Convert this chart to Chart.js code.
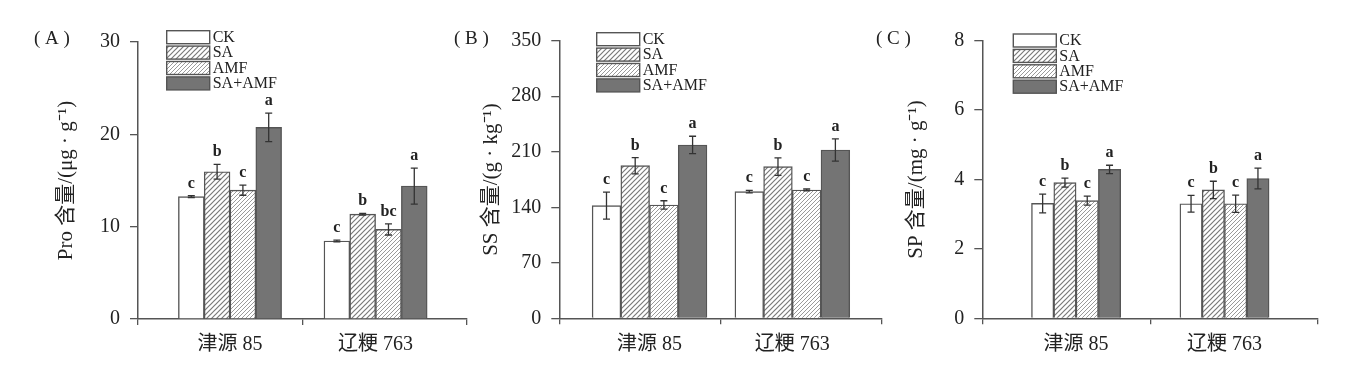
<!DOCTYPE html>
<html>
<head>
<meta charset="utf-8">
<script src="https://cdn.jsdelivr.net/npm/chart.js@4.4.1/dist/chart.umd.min.js"></script>
<style>
  body { margin: 0; background: #fff; }
  .panel { position: absolute; top: 0; height: 371px; }
</style>
</head>
<body>
<div class="panel" style="left:0;width:475px"><canvas id="chartA"></canvas></div>
<div class="panel" style="left:440px;width:450px"><canvas id="chartB"></canvas></div>
<div class="panel" style="left:860px;width:488px"><canvas id="chartC"></canvas></div>
<script>
// categories and treatments
var groups = ['津源 85', '辽粳 763'];
var treatments = ['CK', 'SA', 'AMF', 'SA+AMF'];

// (A) proline, one row per treatment: [津源 85, 辽粳 763]
var proMeans = [[13.25, 8.45], [15.95, 11.35], [13.95, 9.7], [20.75, 14.4]];
var proErrors = [[0.1, 0.1], [0.8, 0.1], [0.55, 0.6], [1.55, 1.95]];
var proLetters = [['c', 'c'], ['b', 'b'], ['c', 'bc'], ['a', 'a']];

// (B) soluble sugar
var ssMeans = [[142, 159.7], [192.4, 191.2], [142.9, 161.8], [218.5, 212.2]];
var ssErrors = [[17, 1.5], [10.3, 11], [5.3, 1.2], [11, 14]];
var ssLetters = [['c', 'c'], ['b', 'b'], ['c', 'c'], ['a', 'a']];

// (C) soluble protein
var spMeans = [[3.31, 3.3], [3.91, 3.7], [3.39, 3.3], [4.29, 4.03]];
var spErrors = [[0.27, 0.24], [0.13, 0.25], [0.13, 0.25], [0.12, 0.3]];
var spLetters = [['c', 'c'], ['b', 'b'], ['c', 'c'], ['a', 'a']];

var FONT = "'Liberation Serif', 'Noto Sans CJK SC', serif";
var AXIS = '#555';

function hatch(step, color, width) {
  var c = document.createElement('canvas');
  c.width = step; c.height = step;
  var g = c.getContext('2d');
  g.fillStyle = '#fff';
  g.fillRect(0, 0, step, step);
  g.strokeStyle = color;
  g.lineWidth = width;
  g.beginPath();
  g.moveTo(-1, step + 1); g.lineTo(step + 1, -1);
  g.moveTo(-1, 1); g.lineTo(1, -1);
  g.moveTo(step - 1, step + 1); g.lineTo(step + 1, step - 1);
  g.stroke();
  return g.createPattern(c, 'repeat');
}

var fills = ['#ffffff', hatch(5, '#7a7a7a', 1.2), hatch(4, '#9a9a9a', 1), '#747474'];

var errorBars = {
  id: 'errorBars',
  afterDatasetsDraw: function(chart) {
    var ctx = chart.ctx, y = chart.scales.y;
    ctx.save();
    chart.data.datasets.forEach(function(ds, i) {
      chart.getDatasetMeta(i).data.forEach(function(bar, j) {
        var v = ds.data[j].y, e = ds.errors[j];
        var top = y.getPixelForValue(v + e), bot = y.getPixelForValue(v - e);
        ctx.strokeStyle = '#333';
        ctx.lineWidth = 1.3;
        ctx.beginPath();
        ctx.moveTo(bar.x, top); ctx.lineTo(bar.x, bot);
        ctx.moveTo(bar.x - 3.5, top); ctx.lineTo(bar.x + 3.5, top);
        ctx.moveTo(bar.x - 3.5, bot); ctx.lineTo(bar.x + 3.5, bot);
        ctx.stroke();
        ctx.fillStyle = '#222';
        ctx.font = 'bold 16px ' + FONT;
        ctx.textAlign = 'center';
        ctx.textBaseline = 'alphabetic';
        ctx.fillText(ds.letters[j], bar.x, top - 8);
      });
    });
    ctx.restore();
  }
};

var boxLegend = {
  id: 'boxLegend',
  afterDraw: function(chart, args, opts) {
    var ctx = chart.ctx;
    var x0 = chart.chartArea.left + opts.x, y0 = opts.y;
    ctx.save();
    chart.data.datasets.forEach(function(ds, i) {
      var y = y0 + i * 15.4;
      ctx.fillStyle = ds.backgroundColor;
      ctx.fillRect(x0, y, 43, 13);
      ctx.strokeStyle = '#555';
      ctx.lineWidth = 1.4;
      ctx.strokeRect(x0, y, 43, 13);
      ctx.fillStyle = '#222';
      ctx.font = '16px ' + FONT;
      ctx.textAlign = 'left';
      ctx.textBaseline = 'middle';
      ctx.fillText(ds.label, x0 + 46, y + 7);
    });
    ctx.restore();
  }
};

var panelLabel = {
  id: 'panelLabel',
  afterDraw: function(chart, args, opts) {
    var ctx = chart.ctx;
    ctx.save();
    ctx.fillStyle = '#222';
    ctx.font = '19px ' + FONT;
    ctx.textAlign = 'left';
    ctx.textBaseline = 'middle';
    ctx.fillText(opts.text, opts.x, opts.y);
    ctx.restore();
  }
};

function makeChart(id, p) {
  var datasets = treatments.map(function(t, i) {
    return {
      label: t,
      data: groups.map(function(g, j) { return { x: j + 1, y: p.means[i][j] }; }),
      errors: p.errors[i],
      letters: p.letters[i],
      backgroundColor: fills[i],
      borderColor: '#555',
      borderWidth: 1.4,
      barThickness: p.barWidth
    };
  });
  var xMin = 0.368, xMax = 2.628;
  new Chart(document.getElementById(id), {
    type: 'bar',
    data: { datasets: datasets },
    plugins: [errorBars, boxLegend, panelLabel],
    options: {
      responsive: true,
      maintainAspectRatio: false,
      animation: false,
      layout: { padding: { top: p.top, right: p.right, left: 0, bottom: 0 } },
      plugins: {
        legend: { display: false },
        tooltip: { enabled: false },
        boxLegend: p.legend,
        panelLabel: p.label
      },
      scales: {
        x: {
          type: 'linear', min: xMin, max: xMax, offset: false,
          afterBuildTicks: function(s) {
            s.ticks = [xMin, 1, 1.5, 2, xMax].map(function(v) { return { value: v }; });
          },
          afterFit: function(s) { s.height = 371 - p.bottom; },
          ticks: {
            autoSkip: false, maxRotation: 0, padding: 8, color: '#222',
            font: { family: FONT, size: 20 },
            callback: function(v) { return v === 1 ? groups[0] : (v === 2 ? groups[1] : ''); }
          },
          grid: {
            offset: false, drawOnChartArea: false, tickLength: 6, lineWidth: 1.3,
            color: function(c) { return (c.tick && (c.tick.value === 1 || c.tick.value === 2)) ? 'rgba(0,0,0,0)' : AXIS; }
          },
          border: { color: AXIS, width: 1.5 }
        },
        y: {
          min: 0, max: p.max,
          afterFit: function(s) { s.width = p.yWidth; },
          ticks: { stepSize: p.step, padding: 10, color: '#222', font: { family: FONT, size: 20 } },
          grid: { drawOnChartArea: false, tickLength: 8, lineWidth: 1.3, color: AXIS },
          border: { color: AXIS, width: 1.5 },
          title: {
            display: true, text: p.title, color: '#222',
            font: { family: FONT, size: 21 },
            padding: { top: p.titlePad, bottom: 0 }
          }
        }
      }
    }
  });
}

makeChart('chartA', {
  means: proMeans, errors: proErrors, letters: proLetters,
  max: 30, step: 10, title: 'Pro 含量/(μg · g⁻¹)',
  top: 42, bottom: 319, right: 7, yWidth: 138, titlePad: 54, barWidth: 25.8,
  legend: { x: 28.7, y: 30.7 }, label: { text: '( A )', x: 34, y: 39 }
});
makeChart('chartB', {
  means: ssMeans, errors: ssErrors, letters: ssLetters,
  max: 350, step: 70, title: 'SS 含量/(g · kg⁻¹)',
  top: 40.7, bottom: 318.3, right: 6, yWidth: 119.3, titlePad: 39, barWidth: 28.7,
  legend: { x: 37.4, y: 32.7 }, label: { text: '( B )', x: 14, y: 39 }
});
makeChart('chartC', {
  means: spMeans, errors: spErrors, letters: spLetters,
  max: 8, step: 2, title: 'SP 含量/(mg · g⁻¹)',
  top: 40.7, bottom: 318.3, right: 30.3, yWidth: 122.3, titlePad: 44, barWidth: 22.3,
  legend: { x: 31, y: 34 }, label: { text: '( C )', x: 16, y: 39 }
});
</script>
</body>
</html>
